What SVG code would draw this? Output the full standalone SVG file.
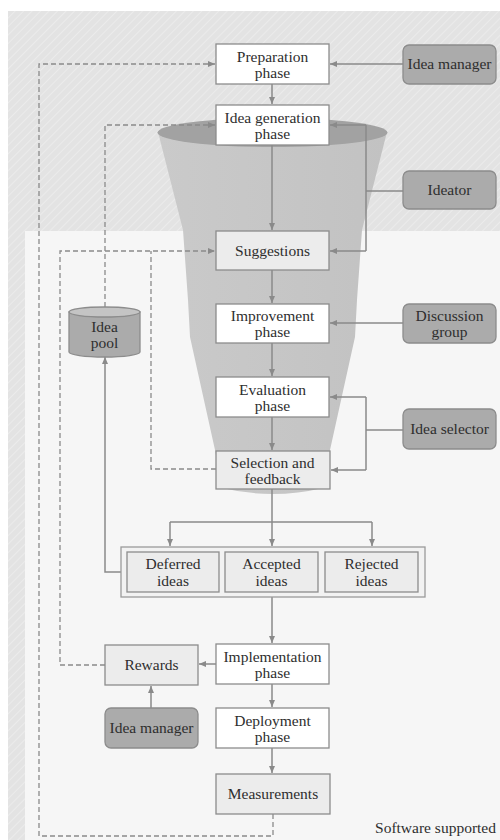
<svg xmlns="http://www.w3.org/2000/svg" width="500" height="840" viewBox="0 0 500 840">
<defs>
<pattern id="hatch" width="6" height="6" patternUnits="userSpaceOnUse" patternTransform="rotate(45)">
<rect width="6" height="6" fill="#e3e3e3"/>
<line x1="0" y1="0" x2="0" y2="6" stroke="#ebebeb" stroke-width="2"/>
</pattern>
<linearGradient id="fun" x1="0" y1="0" x2="1" y2="0">
<stop offset="0" stop-color="#cacaca"/>
<stop offset="1" stop-color="#c2c2c2"/>
</linearGradient>
<marker id="ah" markerWidth="7" markerHeight="6" refX="7" refY="3" orient="auto" markerUnits="userSpaceOnUse">
<path d="M0,0 L7,3 L0,6 Z" fill="#8a8a8a"/>
</marker>
</defs>
<style>
text{font-family:"Liberation Serif","Times New Roman",serif;font-size:15.5px;fill:#2e2e2e;text-anchor:middle}
.w{fill:#ffffff;stroke:#8c8c8c;stroke-width:1.3}
.g{fill:#ececec;stroke:#8c8c8c;stroke-width:1.3}
.d{fill:#ababab;stroke:#8c8c8c;stroke-width:1.3}
.c{fill:none;stroke:#8a8a8a;stroke-width:1.5}
.ds{fill:none;stroke:#8a8a8a;stroke-width:1.3;stroke-dasharray:5,3}
</style>

<!-- backgrounds -->
<rect x="8" y="11" width="492" height="829" fill="url(#hatch)"/>
<rect x="25" y="231" width="475" height="609" fill="#f6f6f6"/>

<!-- funnel -->
<g id="funnel">
<path d="M158,132 L183,230 L188,300 L190,337 L215,450 L222,488 Q272.5,500 323,488 L330,450 L355,337 L357,300 L362,230 L387,132 Z" fill="url(#fun)"/>
<ellipse cx="272.5" cy="132.5" rx="115" ry="14.5" fill="#a2a2a2"/>
</g>

<!-- connectors -->
<g id="connectors">
<line class="c" x1="403" y1="64" x2="330" y2="64" marker-end="url(#ah)"/>
<line class="c" x1="272" y1="84" x2="272" y2="104" marker-end="url(#ah)"/>
<line class="c" x1="272" y1="145" x2="272" y2="230" marker-end="url(#ah)"/>
<line class="c" x1="403" y1="191" x2="366" y2="191"/>
<polyline class="c" points="366,125 366,251"/>
<line class="c" x1="366" y1="125" x2="330" y2="125" marker-end="url(#ah)"/>
<line class="c" x1="366" y1="251" x2="330" y2="251" marker-end="url(#ah)"/>
<line class="c" x1="272" y1="270" x2="272" y2="303" marker-end="url(#ah)"/>
<line class="c" x1="403" y1="323" x2="330" y2="323" marker-end="url(#ah)"/>
<line class="c" x1="272" y1="343" x2="272" y2="376" marker-end="url(#ah)"/>
<line class="c" x1="403" y1="430" x2="366" y2="430"/>
<polyline class="c" points="366,397 366,470"/>
<line class="c" x1="366" y1="397" x2="330" y2="397" marker-end="url(#ah)"/>
<line class="c" x1="366" y1="470" x2="331" y2="470" marker-end="url(#ah)"/>
<line class="c" x1="272" y1="417" x2="272" y2="450" marker-end="url(#ah)"/>
<line class="c" x1="272" y1="489" x2="272" y2="546" marker-end="url(#ah)"/>
<polyline class="c" points="170,522 372,522"/>
<line class="c" x1="170" y1="522" x2="170" y2="546" marker-end="url(#ah)"/>
<line class="c" x1="372" y1="522" x2="372" y2="546" marker-end="url(#ah)"/>
<polyline class="c" points="121,572 105,572 105,357" marker-end="url(#ah)"/>
<line class="c" x1="272" y1="597" x2="272" y2="643" marker-end="url(#ah)"/>
<line class="c" x1="216" y1="664" x2="199" y2="664" marker-end="url(#ah)"/>
<line class="c" x1="151" y1="708" x2="151" y2="686" marker-end="url(#ah)"/>
<line class="c" x1="272" y1="684" x2="272" y2="707" marker-end="url(#ah)"/>
<line class="c" x1="272" y1="748" x2="272" y2="773" marker-end="url(#ah)"/>
<polyline class="ds" points="273,814 273,836 39,836 39,64 215,64" marker-end="url(#ah)"/>
<polyline class="ds" points="105,307 105,125 215,125" marker-end="url(#ah)"/>
<polyline class="ds" points="105,665 60,665 60,251 215,251" marker-end="url(#ah)"/>
<polyline class="ds" points="216,469 151,469 151,251"/>
</g>

<!-- nodes -->
<g id="preparation"><rect class="w" x="216" y="44" width="113" height="40"/><text x="272.5" y="62">Preparation</text><text x="272.5" y="78">phase</text></g>
<g id="idea-generation"><rect class="w" x="216" y="105" width="113" height="40"/><text x="272.5" y="123">Idea generation</text><text x="272.5" y="139">phase</text></g>
<g id="suggestions"><rect class="g" x="216" y="231" width="113" height="39"/><text x="272.5" y="256">Suggestions</text></g>
<g id="improvement"><rect class="w" x="216" y="304" width="113" height="39"/><text x="272.5" y="321">Improvement</text><text x="272.5" y="337">phase</text></g>
<g id="evaluation"><rect class="w" x="216" y="377" width="113" height="40"/><text x="272.5" y="395">Evaluation</text><text x="272.5" y="411">phase</text></g>
<g id="selection"><rect class="g" x="216" y="451" width="114" height="38"/><text x="272.5" y="468">Selection and</text><text x="272.5" y="484">feedback</text></g>
<g id="idea-manager-top"><rect class="d" x="403" y="45" width="93" height="39" rx="6"/><text x="449.5" y="69">Idea manager</text></g>
<g id="ideator"><rect class="d" x="403" y="171" width="93" height="38" rx="6"/><text x="449.5" y="195">Ideator</text></g>
<g id="discussion-group"><rect class="d" x="403" y="304" width="93" height="39" rx="6"/><text x="449.5" y="321">Discussion</text><text x="449.5" y="337">group</text></g>
<g id="idea-selector"><rect class="d" x="403" y="409" width="93" height="40" rx="6"/><text x="449.5" y="434">Idea selector</text></g>
<g id="idea-pool">
<path d="M69,312 L69,352 A35.5,5 0 0 0 140,352 L140,312 Z" fill="#ababab" stroke="#8c8c8c" stroke-width="1.3"/>
<ellipse cx="104.5" cy="312" rx="35.5" ry="5" fill="#c4c4c4" stroke="#8c8c8c" stroke-width="1.3"/>
<text x="104.5" y="332">Idea</text><text x="104.5" y="348">pool</text>
</g>
<g id="ideas-container">
<rect x="121" y="547" width="304" height="50" fill="#f2f2f2" stroke="#9a9a9a" stroke-width="1.3"/>
<g id="deferred"><rect class="g" x="127" y="552" width="92" height="40"/><text x="173" y="569">Deferred</text><text x="173" y="586">ideas</text></g>
<g id="accepted"><rect class="g" x="225" y="552" width="93" height="40"/><text x="271.5" y="569">Accepted</text><text x="271.5" y="586">ideas</text></g>
<g id="rejected"><rect class="g" x="325" y="552" width="93" height="40"/><text x="371.5" y="569">Rejected</text><text x="371.5" y="586">ideas</text></g>
</g>
<g id="implementation"><rect class="w" x="216" y="644" width="113" height="40"/><text x="272.5" y="662">Implementation</text><text x="272.5" y="678">phase</text></g>
<g id="rewards"><rect class="g" x="105" y="645" width="93" height="40"/><text x="151.5" y="670">Rewards</text></g>
<g id="idea-manager-bottom"><rect class="d" x="105" y="708" width="93" height="40" rx="6"/><text x="151.5" y="733">Idea manager</text></g>
<g id="deployment"><rect class="w" x="216" y="708" width="113" height="40"/><text x="272.5" y="726">Deployment</text><text x="272.5" y="742">phase</text></g>
<g id="measurements"><rect class="g" x="216" y="774" width="114" height="40"/><text x="273" y="799">Measurements</text></g>
<text x="496" y="833" style="text-anchor:end">Software supported</text>
</svg>
